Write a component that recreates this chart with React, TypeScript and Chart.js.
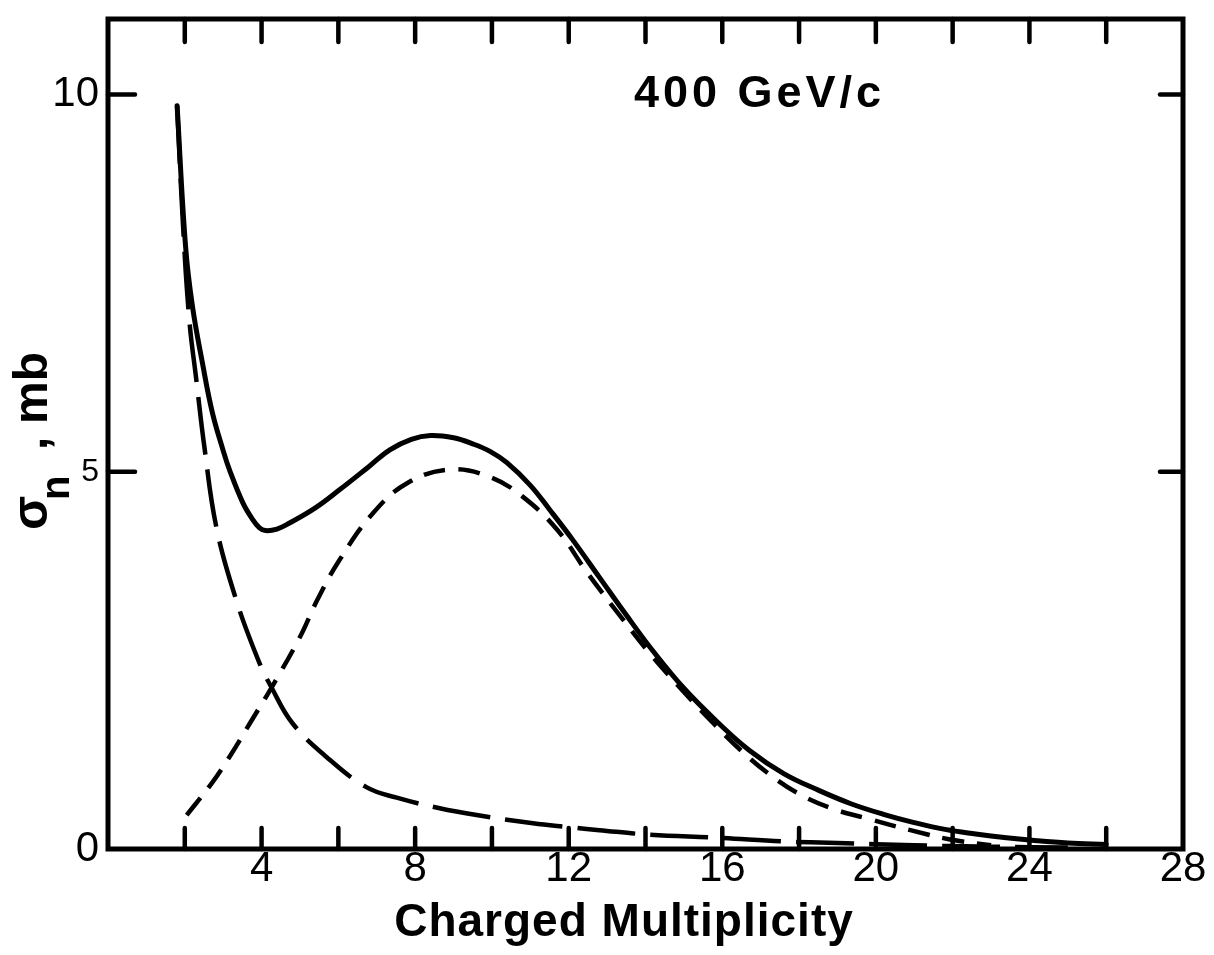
import React, { useEffect, useRef } from 'react';
import { Chart, registerables } from 'chart.js';

Chart.register(...registerables);

// ---- data ----
const totalX = [1.8, 2.02, 2.2, 2.46, 2.72, 3.0, 3.16, 3.51, 3.75, 3.94, 4.1, 4.4, 4.73, 5.4, 6.03, 6.8, 7.34, 7.9, 8.4, 9.0, 9.5, 9.95, 10.39, 11.0, 11.5, 12.1, 12.8, 13.5, 14.2, 15.0, 15.9, 16.7, 17.6, 18.5, 19.35, 20.2, 21.0, 21.8, 22.6, 23.4, 24.2, 25.0, 26.0];
const totalY = [9.85, 7.99, 7.19, 6.44, 5.78, 5.28, 5.03, 4.59, 4.38, 4.26, 4.22, 4.24, 4.32, 4.52, 4.76, 5.07, 5.29, 5.43, 5.48, 5.45, 5.37, 5.27, 5.12, 4.82, 4.5, 4.1, 3.6, 3.1, 2.62, 2.13, 1.67, 1.31, 1.0, 0.78, 0.6, 0.46, 0.35, 0.26, 0.2, 0.15, 0.11, 0.08, 0.06];

const gaussX = [2.05, 2.7, 3.2, 3.7, 4.26, 5.0, 5.45, 6.03, 6.9, 7.8, 8.9, 9.95, 10.8, 11.7, 12.5, 13.4, 14.1, 15.0, 15.8, 16.5, 17.2, 18.0, 18.9, 19.8, 20.9, 21.9, 23.0];
const gaussY = [0.45, 0.87, 1.25, 1.67, 2.14, 2.81, 3.3, 3.83, 4.45, 4.85, 5.03, 4.93, 4.67, 4.23, 3.65, 3.05, 2.6, 2.08, 1.65, 1.3, 1.0, 0.73, 0.53, 0.4, 0.25, 0.13, 0.05];

const decayX = [1.8, 1.95, 2.12, 2.3, 2.51, 2.82, 3.34, 3.94, 4.26, 4.8, 5.69, 6.73, 7.52, 8.64, 9.6, 11.07, 12.0, 12.8, 14.1, 15.9, 17.6, 19.0, 21.0, 23.0, 25.0];
const decayY = [9.85, 8.3, 7.0, 6.22, 5.33, 4.27, 3.3, 2.47, 2.14, 1.67, 1.22, 0.82, 0.68, 0.54, 0.45, 0.34, 0.29, 0.25, 0.19, 0.15, 0.1, 0.08, 0.05, 0.03, 0.02];

const xTickLabels = [4, 8, 12, 16, 20, 24, 28];
const xTickMarks = [2, 4, 6, 8, 10, 12, 14, 16, 18, 20, 22, 24, 26];
const yTickLabels = [0, 5, 10];
const yTickMarks = [5, 10];
const xTitle = 'Charged Multiplicity';
const yTitleMain = 'σ';
const yTitleSub = 'n';
const yTitleUnit = 'mb';
const annotationText = '400 GeV/c';

const FONT = '"Liberation Sans", Arial, sans-serif';

const toPoints = (xs: number[], ys: number[]) => xs.map((x, i) => ({ x, y: ys[i] }));

const framePlugin = {
  id: 'frame',
  afterDatasetsDraw(chart: any) {
    const { ctx, chartArea: a, scales } = chart;
    const x = scales.x;
    const y = scales.y;
    ctx.save();
    ctx.strokeStyle = '#000';
    ctx.lineCap = 'round';
    ctx.lineWidth = 5;
    ctx.strokeRect(a.left, a.top, a.right - a.left, a.bottom - a.top);
    ctx.lineWidth = 4.5;
    const seg = (x1: number, y1: number, x2: number, y2: number) => {
      ctx.beginPath();
      ctx.moveTo(x1, y1);
      ctx.lineTo(x2, y2);
      ctx.stroke();
    };
    xTickMarks.forEach((v) => {
      const px = x.getPixelForValue(v);
      seg(px, a.bottom, px, a.bottom - 21);
      seg(px, a.top, px, a.top + 23);
    });
    yTickMarks.forEach((v) => {
      const py = y.getPixelForValue(v);
      seg(a.left, py, a.left + 27, py);
      seg(a.right, py, a.right - 23, py);
    });

    // annotation
    ctx.fillStyle = '#000';
    ctx.font = `bold 45px ${FONT}`;
    (ctx as any).letterSpacing = '4px';
    ctx.textAlign = 'left';
    ctx.textBaseline = 'middle';
    ctx.fillText(annotationText, x.getPixelForValue(13.7), y.getPixelForValue(10));

    // x title
    (ctx as any).letterSpacing = '1px';
    ctx.font = `bold 46px ${FONT}`;
    ctx.textAlign = 'center';
    ctx.textBaseline = 'alphabetic';
    ctx.fillText(xTitle, 624, 936);

    // y title (rotated)
    (ctx as any).letterSpacing = '0px';
    ctx.translate(47, 530);
    ctx.rotate(-Math.PI / 2);
    ctx.textAlign = 'left';
    ctx.textBaseline = 'alphabetic';
    ctx.font = `bold 50px ${FONT}`;
    ctx.fillText(yTitleMain, 0, 0);
    ctx.font = `bold 40px ${FONT}`;
    ctx.fillText(yTitleSub, 30, 22);
    ctx.font = `bold 48px ${FONT}`;
    ctx.fillText(',', 80, 0);
    ctx.fillText(yTitleUnit, 106, 0);
    ctx.restore();
  },
};

export default function App() {
  const ref = useRef<HTMLCanvasElement | null>(null);
  useEffect(() => {
    if (!ref.current) return;
    const chart = new Chart(ref.current, {
      type: 'line',
      data: {
        datasets: [
          {
            data: toPoints(totalX, totalY),
            borderColor: '#000',
            borderWidth: 5,
            pointRadius: 0,
            tension: 0.4,
            borderCapStyle: 'round',
            borderJoinStyle: 'round',
            fill: false,
          },
          {
            data: toPoints(gaussX, gaussY),
            borderColor: '#000',
            borderWidth: 4.5,
            borderDash: [22, 13],
            pointRadius: 0,
            tension: 0.4,
            fill: false,
          },
          {
            data: toPoints(decayX, decayY),
            borderColor: '#000',
            borderWidth: 4.5,
            borderDash: [58, 15],
            pointRadius: 0,
            tension: 0.4,
            fill: false,
          },
        ],
      },
      options: {
        animation: false,
        responsive: false,
        events: [],
        layout: { padding: { top: 19, right: 31, left: 0, bottom: 0 } },
        plugins: { legend: { display: false }, tooltip: { enabled: false }, title: { display: false } },
        scales: {
          x: {
            type: 'linear',
            min: 0,
            max: 28,
            grid: { display: false, drawTicks: false },
            border: { display: false },
            afterBuildTicks: (s: any) => {
              s.ticks = xTickLabels.map((v) => ({ value: v }));
            },
            afterFit: (s: any) => {
              s.height = 106;
              s.paddingLeft = 0;
              s.paddingRight = 0;
            },
            ticks: {
              color: '#000',
              padding: 2,
              maxRotation: 0,
              autoSkip: false,
              font: { family: FONT, size: 42, lineHeight: 0.9 },
            },
          },
          y: {
            type: 'linear',
            min: 0,
            max: 11,
            grid: { display: false, drawTicks: false },
            border: { display: false },
            afterBuildTicks: (s: any) => {
              s.ticks = yTickLabels.map((v) => ({ value: v }));
            },
            afterFit: (s: any) => {
              s.width = 108;
              s.paddingTop = 0;
              s.paddingBottom = 0;
            },
            ticks: {
              color: '#000',
              padding: 9,
              autoSkip: false,
              font: (c: any) => ({ family: FONT, size: c.tick && c.tick.value === 5 ? 32 : 42 }),
            },
          },
        },
      },
      plugins: [framePlugin],
    } as any);
    return () => chart.destroy();
  }, []);
  return (
    <div style={{ position: 'absolute', left: 0, top: 0, width: 1214, height: 955, background: '#fff' }}>
      <canvas ref={ref} width={1214} height={955} style={{ display: 'block' }} />
    </div>
  );
}
